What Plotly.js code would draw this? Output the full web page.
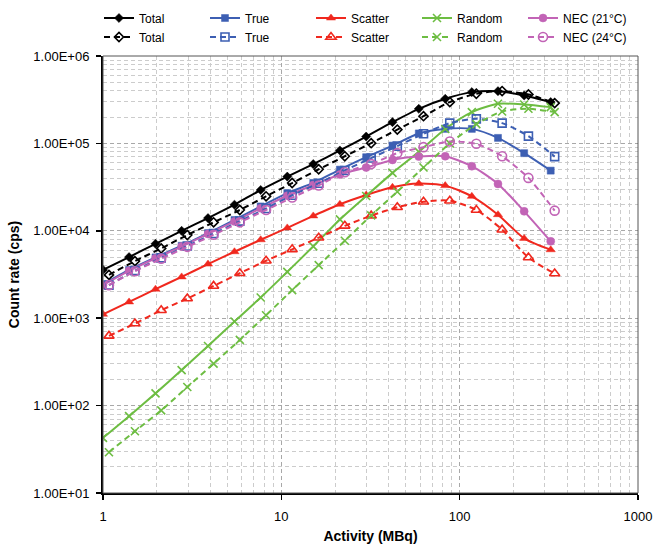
<!DOCTYPE html>
<html><head><meta charset="utf-8">
<script src="https://cdn.plot.ly/plotly-3.0.1.min.js"></script>
<style>html,body{margin:0;padding:0;background:#fff}#chart{width:654px;height:544px}</style>
</head><body><div id="chart"></div>
<script>
// Activity (MBq) for the 21°C and 24°C acquisitions
const activity21 = [1.00, 1.40, 1.97, 2.76, 3.88, 5.46, 7.66, 10.8, 15.1, 21.3, 29.9, 42.0, 59.0, 83.0, 117, 164, 230, 324];
const activity24 = [1.08, 1.51, 2.12, 2.97, 4.17, 5.85, 8.21, 11.5, 16.2, 22.7, 31.9, 44.7, 62.7, 88.0, 124, 173, 243, 341];

// Count rates (cps), 21°C (solid)
const total21   = [3570, 5000, 7100, 10000, 13970, 19900, 29300, 41700, 58000, 83000, 119800, 175000, 248700, 324000, 386000, 396000, 353000, 297000];
const true21    = [2450, 3570, 4960, 6740, 9420, 13300, 19000, 27000, 35300, 50100, 69500, 94400, 130000, 146600, 146600, 115600, 77300, 48800];
const scatter21 = [1110, 1535, 2150, 2970, 4160, 5760, 7900, 10800, 14800, 20100, 25700, 31500, 34700, 32900, 24800, 15300, 8190, 6070];
const random21  = [42.8, 75.7, 138, 255, 481, 916, 1726, 3390, 6640, 13500, 25000, 46000, 80000, 146000, 228000, 284000, 279000, 260000];
const nec21     = [2390, 3480, 4850, 6600, 9200, 12800, 18100, 25200, 33400, 44000, 53000, 64700, 70600, 71300, 54800, 34400, 16700, 7570];

// Count rates (cps), 24°C (dashed)
const total24   = [3130, 4500, 6290, 8940, 12500, 17300, 24800, 35200, 50600, 71300, 100600, 144000, 205000, 297000, 370000, 397000, 363000, 289000];
const true24    = [2390, 3500, 4900, 6700, 9300, 12900, 18000, 25500, 35000, 49000, 68000, 93000, 128900, 170600, 191000, 170600, 121000, 70600];
const scatter24 = [627, 869, 1234, 1680, 2340, 3270, 4540, 6130, 8340, 11400, 14900, 18600, 21500, 22100, 17300, 10300, 4950, 3250];
const random24  = [29.3, 50.9, 88.1, 163, 302, 564, 1082, 2095, 4050, 7690, 15000, 28000, 53000, 100000, 166000, 232000, 249000, 228000];
const nec24     = [2390, 3450, 4800, 6550, 9000, 12500, 17300, 24000, 33000, 46800, 58000, 77300, 90600, 105000, 98900, 71300, 40300, 17000];

const seriesNames = ['Total', 'True', 'Scatter', 'Random', 'NEC (21°C)', 'Total', 'True', 'Scatter', 'Random', 'NEC (24°C)'];
const yTickVals = [10, 100, 1000, 10000, 100000, 1000000];
const yTickText = ['1.00E+01', '1.00E+02', '1.00E+03', '1.00E+04', '1.00E+05', '1.00E+06'];
const xTickVals = [1, 10, 100, 1000];
const xTickText = ['1', '10', '100', '1000'];

const BLACK = '#000000', BLUE = '#3d5fb3', RED = '#f0281e', GREEN = '#6dbd42', PURPLE = '#c264b6';

function minorVals(lo, hi) {
  const v = [];
  for (let d = lo; d < hi; d *= 10) for (let k = 2; k <= 9; k++) v.push(d * k);
  return v;
}

function trace(x, y, name, color, symbol, dashed, size, open) {
  const isX = symbol.indexOf('x') === 0;
  return {
    x: x, y: y, name: name, type: 'scatter', mode: 'lines+markers',
    line: {color: color, width: 2, dash: dashed ? '6px,4px' : 'solid', shape: 'spline', smoothing: 0.7},
    marker: {
      symbol: symbol, size: size, color: color,
      line: {color: color, width: (isX || open) ? 1.6 : 0.5}
    }
  };
}

const data = [
  trace(activity21, total21,   seriesNames[0], BLACK,  'diamond', false, 7, false),
  trace(activity21, true21,    seriesNames[1], BLUE,   'square', false, 7, false),
  trace(activity21, scatter21, seriesNames[2], RED,    'triangle-up', false, 8, false),
  trace(activity21, random21,  seriesNames[3], GREEN,  'x-thin-open', false, 8, false),
  trace(activity21, nec21,     seriesNames[4], PURPLE, 'circle', false, 8, false),
  trace(activity24, total24,   seriesNames[5], BLACK,  'diamond-open', true, 7, true),
  trace(activity24, true24,    seriesNames[6], BLUE,   'square-open', true, 8, true),
  trace(activity24, scatter24, seriesNames[7], RED,    'triangle-up-open', true, 9, true),
  trace(activity24, random24,  seriesNames[8], GREEN,  'x-thin-open', true, 8, false),
  trace(activity24, nec24,     seriesNames[9], PURPLE, 'circle-open', true, 9, true)
];

const FONT = 'Liberation Sans, Arial, Helvetica, sans-serif';

const layout = {
  width: 654, height: 544,
  margin: {l: 103, r: 16, t: 56, b: 51, pad: 0},
  paper_bgcolor: '#ffffff', plot_bgcolor: '#ffffff',
  font: {family: FONT, size: 13, color: '#000'},
  showlegend: true,
  legend: {
    orientation: 'h', xref: 'container', yref: 'container',
    x: 99 / 654, xanchor: 'left', y: 1 - 3.5 / 544, yanchor: 'top',
    entrywidth: 61, entrywidthmode: 'pixels', itemwidth: 30,
    font: {family: FONT, size: 12, color: '#000'},
    bgcolor: 'rgba(0,0,0,0)', traceorder: 'normal', tracegroupgap: 0
  },
  xaxis: {
    type: 'log', range: [0, 3],
    tickmode: 'array', tickvals: xTickVals, ticktext: xTickText,
    ticks: 'outside', ticklen: 5, tickcolor: '#000', tickwidth: 1.5,
    ticklabelstandoff: 5,
    showline: true, linecolor: '#000', linewidth: 2,
    showgrid: true, gridcolor: '#a8a8a8', gridwidth: 1, griddash: '4px,3px',
    minor: {tickmode: 'array', tickvals: minorVals(1, 1000), showgrid: true, gridcolor: '#cccccc', gridwidth: 1, griddash: '4px,3px', ticks: ''},
    zeroline: false,
    tickfont: {family: FONT, size: 13, color: '#000'},
    title: {text: '<b>Activity (MBq)</b>', font: {family: FONT, size: 14, color: '#000'}, standoff: 12}
  },
  yaxis: {
    type: 'log', range: [1, 6],
    tickmode: 'array', tickvals: yTickVals, ticktext: yTickText,
    ticks: 'outside', ticklen: 5, tickcolor: '#000', tickwidth: 1.5,
    ticklabelstandoff: 4,
    showline: true, linecolor: '#000', linewidth: 2,
    showgrid: true, gridcolor: '#a8a8a8', gridwidth: 1, griddash: '4px,3px',
    minor: {tickmode: 'array', tickvals: minorVals(10, 1000000), showgrid: true, gridcolor: '#cccccc', gridwidth: 1, griddash: '4px,3px', ticks: ''},
    zeroline: false,
    tickfont: {family: FONT, size: 13, color: '#000'},
    title: {text: '<b>Count rate (cps)</b>', font: {family: FONT, size: 14, color: '#000'}, standoff: 10}
  },
  shapes: [{
    type: 'rect', xref: 'paper', yref: 'paper', x0: 0, x1: 1, y0: 0, y1: 1,
    line: {color: '#555555', width: 1}, fillcolor: 'rgba(0,0,0,0)', layer: 'above'
  }]
};

Plotly.newPlot('chart', data, layout, {displayModeBar: false, staticPlot: true});
</script>
</body></html>
